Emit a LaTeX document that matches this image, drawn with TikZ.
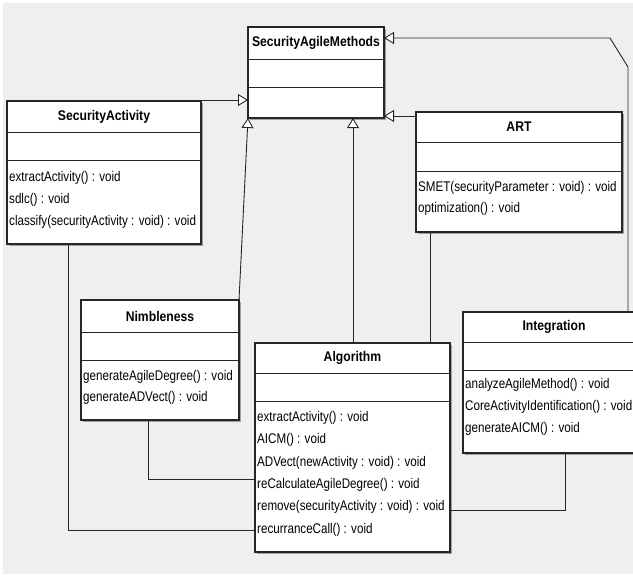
\documentclass[tikz,border=0pt]{standalone}
\usepackage{fontspec}
\setmainfont{Liberation Sans}
\newfontfamily\umlf[FakeStretch=0.83]{Liberation Sans}
\newfontfamily\umlb[FakeStretch=0.87]{Liberation Sans}
\usetikzlibrary{arrows.meta}
\definecolor{bg}{HTML}{EFEFEF}
\definecolor{ln}{HTML}{262626}
\definecolor{shd}{HTML}{A0A0A0}
\tikzset{
  cls/.style={draw=ln, line width=1.3pt, fill=white, inner sep=0pt, outer sep=0pt, anchor=north west},
  ttl/.style={font=\umlb\bfseries\fontsize{14}{16}\selectfont, inner sep=0pt},
  mth/.style={font=\umlf\fontsize{14}{16}\selectfont, inner sep=0pt, anchor=west, text height=10pt, text depth=3pt},
  divl/.style={draw=ln, line width=1pt},
  conn/.style={draw=ln, line width=0.9pt},
  inh/.style={conn, -{Triangle[length=10pt, width=12pt, fill=white, line width=0.9pt]}}
}
\newcommand\umlclass[8]{%
  \fill[shd] (#2+2,#3+2) rectangle (#4+2,#5+2);
  \node[cls, minimum width={(#4-#2)*1pt}, minimum height={(#5-#3)*1pt}] (#1) at (#2,#3) {};
  \draw[divl] (#2,#6) -- (#4,#6);
  \draw[divl] (#2,#7) -- (#4,#7);
  \node[ttl] (#1-t) at ({(#2+#4)/2},{(#3+#6)/2}) {#8};
}
\newcommand\umlm[4]{\node[mth] (#1) at (#2,#3) {#4};}
\begin{document}
\begin{tikzpicture}[x=1pt, y=-1pt]
\useasboundingbox (0,0) rectangle (633,574);
\clip (0,0) rectangle (633,574);
\fill[bg] (3,3) rectangle (633,574);

% classes
\umlclass{sam}{248}{27}{384}{118}{59}{87}{SecurityAgileMethods}

\umlclass{sa}{7}{101}{201}{244}{132}{160}{SecurityActivity}
\umlm{sa-m1}{9}{178}{extractActivity() : void}
\umlm{sa-m2}{9}{200}{sdlc() : void}
\umlm{sa-m3}{9}{222}{classify(securityActivity : void) : void}

\umlclass{art}{416}{112}{622}{232}{142}{171}{ART}
\umlm{art-m1}{418}{188}{SMET(securityParameter : void) : void}
\umlm{art-m2}{418}{209}{optimization() : void}

\umlclass{nim}{81}{300}{239}{420}{332}{360}{Nimbleness}
\umlm{nim-m1}{83}{377}{generateAgileDegree() : void}
\umlm{nim-m2}{83}{398}{generateADVect() : void}

\umlclass{alg}{255}{343}{450}{552}{373}{401}{Algorithm}
\umlm{alg-m1}{257}{418}{extractActivity() : void}
\umlm{alg-m2}{257}{440}{AICM() : void}
\umlm{alg-m3}{257}{463}{ADVect(newActivity : void) : void}
\umlm{alg-m4}{257}{485}{reCalculateAgileDegree() : void}
\umlm{alg-m5}{257}{507}{remove(securityActivity : void) : void}
\umlm{alg-m6}{257}{530}{recurranceCall() : void}

\umlclass{integ}{463}{312}{645}{453}{342}{370}{Integration}
\umlm{integ-m1}{465}{385}{analyzeAgileMethod() : void}
\umlm{integ-m2}{465}{407}{CoreActivityIdentification() : void}
\umlm{integ-m3}{465}{429}{generateAICM() : void}

% generalizations
\draw[inh] ([yshift=1pt]sa.north east) -- ([yshift=1pt]sa.north east -| sam.west);
\draw[inh] (nim.north east) -- (sam.south west);
\draw[inh] ([xshift=98pt]alg.north west) -- ([xshift=98pt]alg.north west |- sam.south);
\draw[inh] ([yshift=-4pt]art.north west) -- ([yshift=-4pt]art.north west -| sam.east);
\coordinate (bend1) at (628,67);
\coordinate (bend2) at (610,38);
\draw[inh] ([xshift=165pt]integ.north west) -- (bend1) -- (bend2) -- (bend2 -| sam.east);

% associations
\draw[conn] ([xshift=61pt]sa.south west) |- ([yshift=-187pt]alg.north west);
\draw[conn] ([xshift=67pt]nim.south west) |- ([yshift=-136pt]alg.north west);
\draw[conn] ([xshift=14pt]art.south west) -- ([xshift=14pt]art.south west |- alg.north);
\draw[conn] ([xshift=102pt]integ.south west) |- ([yshift=-167pt]alg.north east);
\end{tikzpicture}
\end{document}
